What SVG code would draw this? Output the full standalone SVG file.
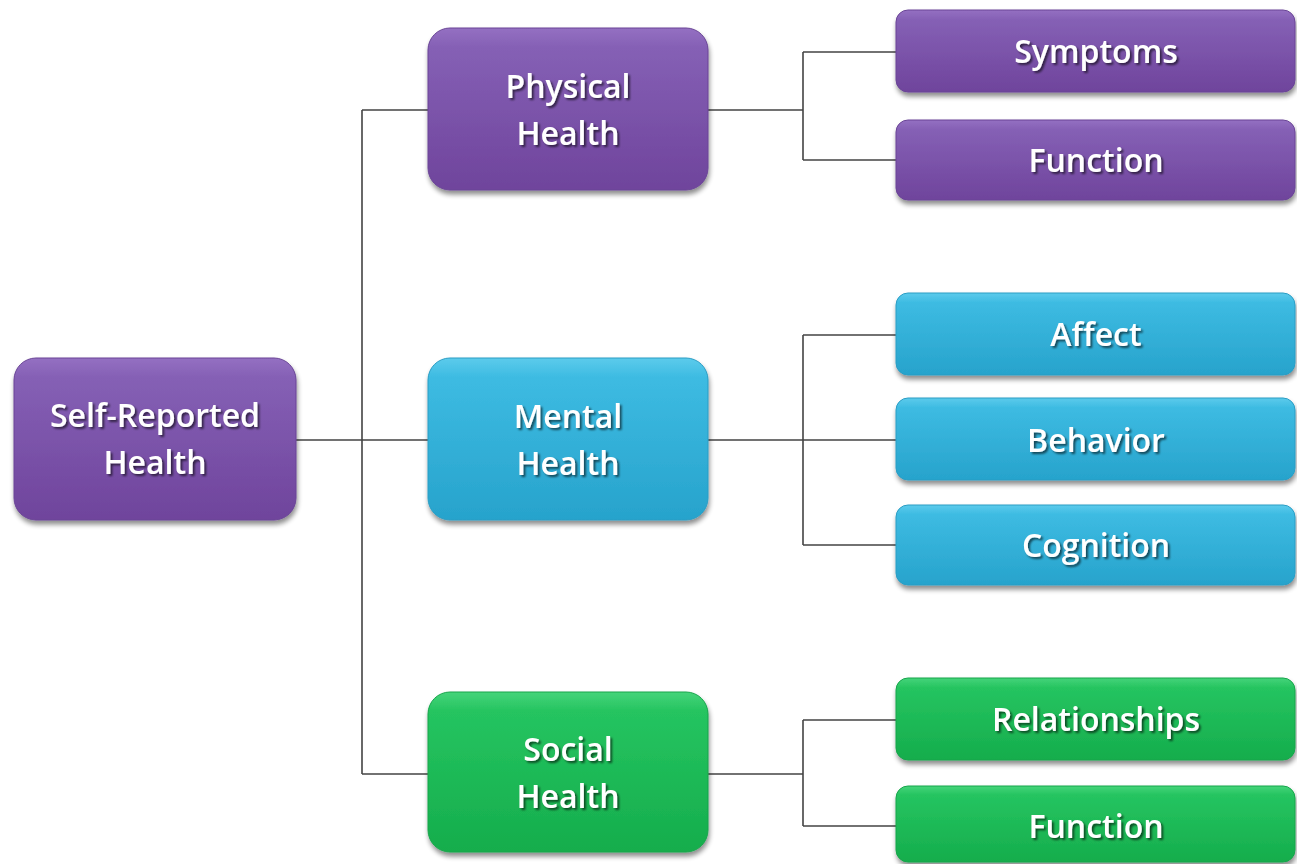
<svg xmlns="http://www.w3.org/2000/svg" width="1297" height="864" viewBox="0 0 1297 864">
<defs>
<linearGradient id="gp" x1="0" y1="0" x2="0" y2="1">
<stop offset="0" stop-color="#9470c2"/><stop offset="0.12" stop-color="#8560b5"/><stop offset="1" stop-color="#6f449c"/>
</linearGradient>
<linearGradient id="gb" x1="0" y1="0" x2="0" y2="1">
<stop offset="0" stop-color="#5ccbec"/><stop offset="0.12" stop-color="#3dbbe2"/><stop offset="1" stop-color="#27a3cc"/>
</linearGradient>
<linearGradient id="gg" x1="0" y1="0" x2="0" y2="1">
<stop offset="0" stop-color="#45d47a"/><stop offset="0.12" stop-color="#25c460"/><stop offset="1" stop-color="#15ad4c"/>
</linearGradient>
<filter id="sh" x="-10%" y="-10%" width="120%" height="130%">
<feGaussianBlur in="SourceAlpha" stdDeviation="2.5"/>
<feOffset dx="1" dy="4" result="b"/>
<feComponentTransfer><feFuncA type="linear" slope="0.45"/></feComponentTransfer>
<feMerge><feMergeNode/><feMergeNode in="SourceGraphic"/></feMerge>
</filter>
<filter id="ts" x="-10%" y="-20%" width="120%" height="150%">
<feGaussianBlur in="SourceAlpha" stdDeviation="1"/>
<feOffset dx="1.5" dy="2" result="b"/>
<feComponentTransfer><feFuncA type="linear" slope="0.6"/></feComponentTransfer>
<feMerge><feMergeNode/><feMergeNode in="SourceGraphic"/></feMerge>
</filter>
</defs>
<style>
.p{fill:url(#gp);stroke:#6a4596;stroke-width:1}
.b{fill:url(#gb);stroke:#2a9dc4;stroke-width:1}
.g{fill:url(#gg);stroke:#17a54b;stroke-width:1}
.box{filter:url(#sh)}
text{font-family:"Open Sans","Liberation Sans",sans-serif;font-size:32px;font-weight:600;fill:#ffffff;text-anchor:middle;filter:url(#ts)}
.c{fill:none;stroke:#444;stroke-width:1.6}
</style>
<rect width="1297" height="864" fill="#ffffff"/>
<g id="connectors">
<path class="c" d="M296 440H362M362 110V774M362 110H428M362 440H428M362 774H428"/>
<path class="c" d="M708 110H803M803 52V160M803 52H896M803 160H896"/>
<path class="c" d="M708 440H803M803 335V545M803 335H896M803 440H896M803 545H896"/>
<path class="c" d="M708 774H803M803 720V826M803 720H896M803 826H896"/>
</g>
<g id="self-reported-health"><rect class="box p" x="14" y="358" width="282" height="162" rx="22"/><text x="155" y="427">Self-Reported</text><text x="155" y="474">Health</text></g>
<g id="physical-health"><rect class="box p" x="428" y="28" width="280" height="162" rx="22"/><text x="568" y="98">Physical</text><text x="568" y="145">Health</text></g>
<g id="mental-health"><rect class="box b" x="428" y="358" width="280" height="162" rx="22"/><text x="568" y="428">Mental</text><text x="568" y="475">Health</text></g>
<g id="social-health"><rect class="box g" x="428" y="692" width="280" height="160" rx="22"/><text x="568" y="761">Social</text><text x="568" y="808">Health</text></g>
<g id="symptoms"><rect class="box p" x="896" y="10" width="399" height="82" rx="12"/><text x="1096" y="63">Symptoms</text></g>
<g id="function-physical"><rect class="box p" x="896" y="120" width="399" height="80" rx="12"/><text x="1096" y="172">Function</text></g>
<g id="affect"><rect class="box b" x="896" y="293" width="399" height="82" rx="12"/><text x="1096" y="346">Affect</text></g>
<g id="behavior"><rect class="box b" x="896" y="398" width="399" height="82" rx="12"/><text x="1096" y="452">Behavior</text></g>
<g id="cognition"><rect class="box b" x="896" y="505" width="399" height="80" rx="12"/><text x="1096" y="557">Cognition</text></g>
<g id="relationships"><rect class="box g" x="896" y="678" width="399" height="82" rx="12"/><text x="1096" y="731">Relationships</text></g>
<g id="function-social"><rect class="box g" x="896" y="786" width="399" height="76" rx="12"/><text x="1096" y="838">Function</text></g>
</svg>
